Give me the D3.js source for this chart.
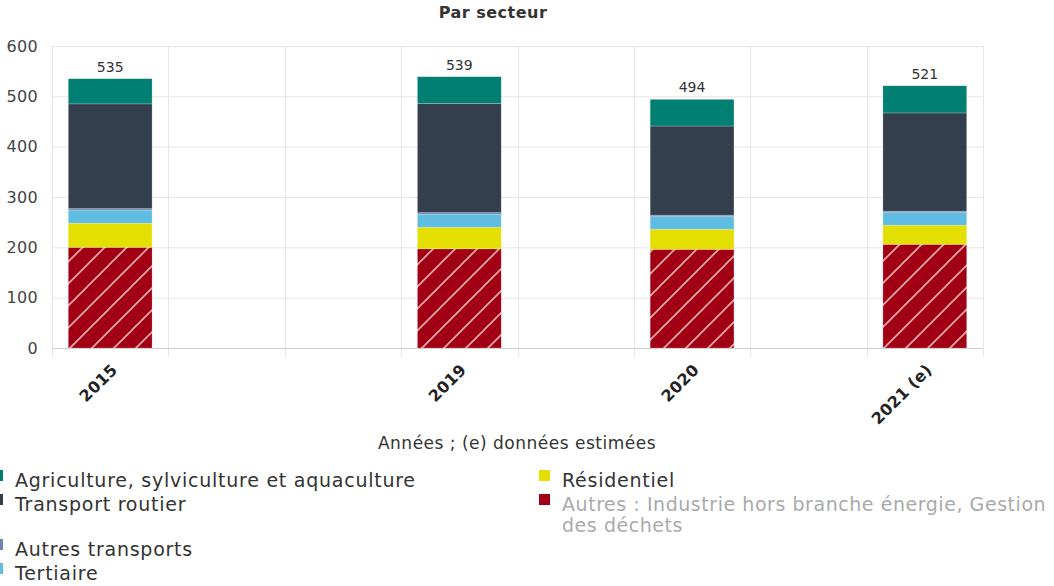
<!DOCTYPE html>
<html lang="fr">
    <head>
        <meta charset="utf-8"/>
        <script src="https://d3js.org/d3.v7.min.js"></script>
        <style>
            body { margin: 0; background: #fff; }
            text { font-family: "DejaVu Sans", sans-serif; }
        </style>
    </head>
    <body>
        <div id="chart"></div>
    </body>
    <script>
        // slots on the x axis; only some hold a year
        var slots = ["2015", "s1", "s2", "2019", "s4", "2020", "s6", "2021 (e)"];
        var years = ["2015", "2019", "2020", "2021 (e)"];
        var totals = [535, 539, 494, 521];

        // stacked from bottom to top
        var autres = [200, 197, 196, 206];
        var residentiel = [48, 43, 40, 38];
        var tertiaire = [26, 26, 25, 25];
        var autresTransports = [3, 3, 3, 3];
        var transportRoutier = [208, 217, 177, 195];
        var agriculture = [50, 53, 53, 54];

        var yTicks = [0, 100, 200, 300, 400, 500, 600];

        var series = [
            {key: "autres", name: "Autres : Industrie hors branche énergie, Gestion des déchets", values: autres, color: "#a10014", hatch: true},
            {key: "residentiel", name: "Résidentiel", values: residentiel, color: "#e3df00"},
            {key: "tertiaire", name: "Tertiaire", values: tertiaire, color: "#5fbde3"},
            {key: "autresTransports", name: "Autres transports", values: autresTransports, color: "#7286ad"},
            {key: "transportRoutier", name: "Transport routier", values: transportRoutier, color: "#333f4d"},
            {key: "agriculture", name: "Agriculture, sylviculture et aquaculture", values: agriculture, color: "#007f72"}
        ];

        var W = 1054, H = 586;
        var plot = {left: 52, right: 983, top: 46, bottom: 348};

        var svg = d3.select("#chart")
            .append("svg")
                .attr("width", W)
                .attr("height", H);

        var defs = svg.append("defs");
        var pat = defs.append("pattern")
            .attr("id", "hatch")
            .attr("patternUnits", "userSpaceOnUse")
            .attr("width", 22)
            .attr("height", 22);
        pat.append("rect").attr("width", 22).attr("height", 22).attr("fill", "#a10014");
        pat.append("path")
            .attr("d", "M 0 22 L 22 0 M -2 2 L 2 -2 M 20 24 L 24 20")
            .attr("stroke", "#e9a9b0")
            .attr("stroke-width", 1.6);

        var x = d3.scaleBand()
            .domain(slots)
            .range([plot.left, plot.right])
            .paddingInner(0)
            .paddingOuter(0);

        var y = d3.scaleLinear()
            .domain([0, 600])
            .range([plot.bottom, plot.top]);

        // title
        svg.append("text")
            .attr("x", 493)
            .attr("y", 18)
            .attr("text-anchor", "middle")
            .attr("font-size", 16)
            .attr("letter-spacing", 0.5)
            .attr("font-weight", "bold")
            .attr("fill", "#333")
            .text("Par secteur");

        // horizontal grid
        svg.append("g")
            .selectAll("line")
            .data(yTicks)
            .join("line")
                .attr("x1", plot.left)
                .attr("x2", plot.right)
                .attr("y1", function (d) { return y(d) + 0.5; })
                .attr("y2", function (d) { return y(d) + 0.5; })
                .attr("stroke", "#e6e6e6");

        // vertical grid on band edges
        var edges = slots.map(function (s) { return x(s); }).concat([plot.right]);
        svg.append("g")
            .selectAll("line")
            .data(edges)
            .join("line")
                .attr("x1", function (d) { return Math.round(d) + 0.5; })
                .attr("x2", function (d) { return Math.round(d) + 0.5; })
                .attr("y1", plot.top)
                .attr("y2", plot.bottom + 9)
                .attr("stroke", "#e6e6e6");

        // y axis labels
        var yAxis = svg.append("g")
            .attr("transform", "translate(" + plot.left + ",0)")
            .call(d3.axisLeft(y).tickValues(yTicks).tickSize(0).tickPadding(14));
        yAxis.select(".domain").remove();
        yAxis.selectAll("text")
            .attr("font-size", 16)
            .attr("font-family", "DejaVu Sans, sans-serif")
            .attr("letter-spacing", 0.3)
            .attr("fill", "#444");

        // bars
        var stackData = years.map(function (yr, i) {
            var row = {year: yr};
            series.forEach(function (s) { row[s.key] = s.values[i]; });
            return row;
        });
        var stacked = d3.stack().keys(series.map(function (s) { return s.key; }))(stackData);

        var bw = x.bandwidth() * 0.72;
        svg.append("g")
            .selectAll("g")
            .data(stacked)
            .join("g")
                .attr("fill", function (d, i) { return series[i].hatch ? "url(#hatch)" : series[i].color; })
            .selectAll("rect")
            .data(function (d) { return d; })
            .join("rect")
                .attr("x", function (d) { return x(d.data.year) + (x.bandwidth() - bw) / 2; })
                .attr("width", bw)
                .attr("y", function (d) { return y(d[1]); })
                .attr("height", function (d) { return y(d[0]) - y(d[1]); })
                .attr("stroke", "#ffffff")
                .attr("stroke-opacity", 0.35)
                .attr("stroke-width", 0.6);

        // axis line
        svg.append("line")
            .attr("x1", plot.left)
            .attr("x2", plot.right)
            .attr("y1", plot.bottom + 0.5)
            .attr("y2", plot.bottom + 0.5)
            .attr("stroke", "#d0d0d0");

        // total labels
        svg.append("g")
            .selectAll("text")
            .data(years)
            .join("text")
                .attr("x", function (d) { return x(d) + x.bandwidth() / 2; })
                .attr("y", function (d, i) { return y(totals[i]) - 7; })
                .attr("text-anchor", "middle")
                .attr("font-size", 14)
                .attr("fill", "#333")
                .text(function (d, i) { return totals[i]; });

        // x axis labels
        svg.append("g")
            .selectAll("text")
            .data(years)
            .join("text")
                .attr("transform", function (d) {
                    return "translate(" + (x(d) + x.bandwidth() / 2 + 8) + "," + (plot.bottom + 23) + ") rotate(-45)";
                })
                .attr("text-anchor", "end")
                .attr("font-size", 16)
                .attr("letter-spacing", 0.2)
                .attr("font-weight", "bold")
                .attr("fill", "#222")
                .text(function (d) { return d; });

        // axis title
        svg.append("text")
            .attr("x", 517)
            .attr("y", 449)
            .attr("text-anchor", "middle")
            .attr("font-size", 17)
            .attr("letter-spacing", 0.5)
            .attr("fill", "#333")
            .text("Années ; (e) données estimées");

        // legend
        var byKey = {};
        series.forEach(function (s) { byKey[s.key] = s; });
        var legendRows = [
            [{key: "agriculture"}, {key: "residentiel"}],
            [{key: "transportRoutier"}, {key: "autres", lines: ["Autres : Industrie hors branche énergie, Gestion", "des déchets"], muted: true}],
            [{key: "autresTransports"}],
            [{key: "tertiaire"}]
        ];
        var colX = [15, 562];
        var lineH = 21;
        var rowY = 487;
        legendRows.forEach(function (row) {
            var maxLines = 1;
            row.forEach(function (item, c) {
                var s = byKey[item.key];
                var lines = item.lines || [s.name];
                maxLines = Math.max(maxLines, lines.length);
                var g = svg.append("g");
                g.append("rect")
                    .attr("x", colX[c] - 23)
                    .attr("y", rowY - 17)
                    .attr("width", 11)
                    .attr("height", 11)
                    .attr("fill", s.color);
                lines.forEach(function (l, k) {
                    g.append("text")
                        .attr("x", colX[c])
                        .attr("y", rowY + k * lineH)
                        .attr("font-size", 19)
                        .attr("letter-spacing", item.muted ? 0.55 : 0.75)
                        .attr("fill", item.muted ? "#aaaaaa" : "#333")
                        .text(l);
                });
            });
            rowY += maxLines * lineH + 3;
        });
    </script>
</html>
